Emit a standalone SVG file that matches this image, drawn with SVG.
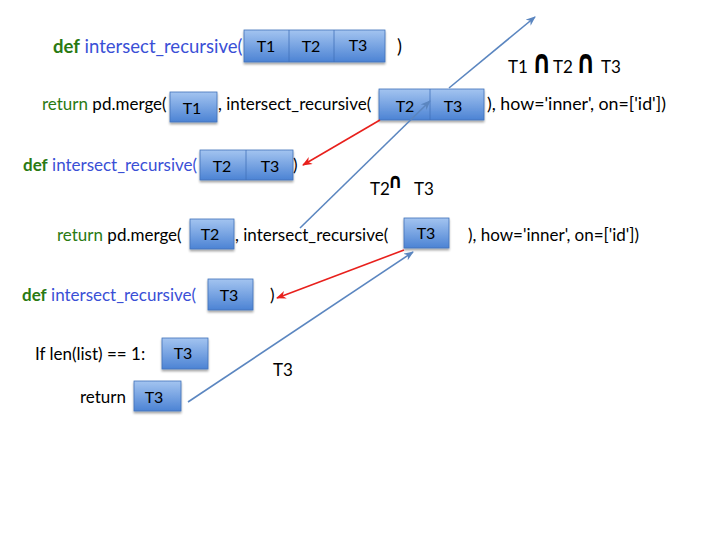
<svg xmlns="http://www.w3.org/2000/svg" width="720" height="540" viewBox="0 0 720 540">
  <defs>
    <linearGradient id="boxFill" x1="0" y1="0" x2="0" y2="1">
      <stop offset="0" stop-color="#a3c4f0"/>
      <stop offset="1" stop-color="#4c83d4"/>
    </linearGradient>
    <filter id="shadow" x="-20%" y="-20%" width="140%" height="160%">
      <feDropShadow dx="0" dy="2" stdDeviation="1.2" flood-color="#000" flood-opacity="0.35"/>
    </filter>
    <marker id="headBlue" viewBox="0 0 10 8" refX="9" refY="4" markerWidth="10" markerHeight="8" markerUnits="userSpaceOnUse" orient="auto">
      <path d="M0,0 L10,4 L0,8 L3,4 z" fill="#5b86c0"/>
    </marker>
    <marker id="headRed" viewBox="0 0 10 8" refX="9" refY="4" markerWidth="10" markerHeight="8" markerUnits="userSpaceOnUse" orient="auto">
      <path d="M0,0 L10,4 L0,8 L3,4 z" fill="#e8201c"/>
    </marker>
  </defs>
  <style>
    text { font-family: Lato, "Liberation Sans", sans-serif; font-size: 17px; fill: #000; }
    .kw { fill: #2a7a12; }
    .kwb { fill: #2a7a12; font-weight: bold; }
    .fn { fill: #3a4fd6; }
    .big { font-size: 18.5px; }
    .box { fill: url(#boxFill); stroke: #4272ba; stroke-width: 0.8; filter: url(#shadow); }
    .div { stroke: #4272ba; stroke-width: 0.8; }
    .lbl { font-size: 16px; text-anchor: middle; }
    .cap { font-family: "DejaVu Sans", sans-serif; font-weight: bold; font-size: 33px; }
    .cap-sm { font-family: "DejaVu Sans", sans-serif; font-weight: bold; font-size: 21px; }
    .blue { fill: none; stroke: #5b86c0; stroke-width: 1.6; marker-end: url(#headBlue); }
    .red { fill: none; stroke: #e8201c; stroke-width: 1.6; marker-end: url(#headRed); }
  </style>

  <rect width="720" height="540" fill="#fff"/>

  <!-- code lines -->
  <g id="code">
    <text class="big" x="53" y="53"><tspan class="kwb">def</tspan><tspan class="fn"> intersect_recursive(</tspan></text>
    <text class="big" x="397" y="53">)</text>

    <text x="42" y="110"><tspan class="kw">return</tspan> pd.merge(</text>
    <text x="218" y="110">, intersect_recursive(</text>
    <text x="487" y="110" style="font-size:17.8px">), how='inner', on=['id'])</text>

    <text x="23" y="171"><tspan class="kwb">def</tspan><tspan class="fn"> intersect_recursive(</tspan></text>
    <text x="293" y="171">)</text>

    <text x="57" y="241"><tspan class="kw">return</tspan> pd.merge(</text>
    <text x="235" y="241">, intersect_recursive(</text>
    <text x="468" y="241">), how='inner', on=['id'])</text>

    <text x="22" y="301"><tspan class="kwb">def</tspan><tspan class="fn"> intersect_recursive(</tspan></text>
    <text x="270" y="301">)</text>

    <text x="35" y="360">If len(list) == 1:</text>
    <text x="80" y="403">return</text>
  </g>

  <!-- intermediate results -->
  <g id="results">
    <text x="508" y="73">T1</text>
    <text class="cap" transform="translate(532,73) scale(0.72,1)">∩</text>
    <text x="553" y="73">T2</text>
    <text class="cap" transform="translate(576,73) scale(0.72,1)">∩</text>
    <text x="601" y="73">T3</text>

    <text x="370" y="195">T2</text>
    <text class="cap-sm" transform="translate(388,188) scale(0.85,1)">∩</text>
    <text x="414" y="195">T3</text>

    <text x="273" y="376">T3</text>
  </g>

  <!-- table blocks -->
  <g id="list-t1-t2-t3">
    <rect class="box" x="244" y="30" width="141" height="32"/>
    <line class="div" x1="289" y1="30" x2="289" y2="62"/>
    <line class="div" x1="334" y1="30" x2="334" y2="62"/>
    <text class="lbl" x="266" y="52">T1</text>
    <text class="lbl" x="311" y="52">T2</text>
    <text class="lbl" x="358" y="51">T3</text>
  </g>
  <g id="head-t1">
    <rect class="box" x="170" y="92" width="47" height="30"/>
    <text class="lbl" x="192" y="114">T1</text>
  </g>
  <g id="tail-t2-t3">
    <rect class="box" x="379" y="89" width="105" height="31"/>
    <line class="div" x1="430" y1="89" x2="430" y2="120"/>
    <text class="lbl" x="405" y="112">T2</text>
    <text class="lbl" x="453" y="112">T3</text>
  </g>
  <g id="list-t2-t3">
    <rect class="box" x="200" y="150" width="93" height="30"/>
    <line class="div" x1="246" y1="150" x2="246" y2="180"/>
    <text class="lbl" x="222" y="172">T2</text>
    <text class="lbl" x="270" y="172">T3</text>
  </g>
  <g id="head-t2">
    <rect class="box" x="190" y="219" width="44" height="30"/>
    <text class="lbl" x="210" y="240">T2</text>
  </g>
  <g id="tail-t3">
    <rect class="box" x="404" y="218" width="45" height="30"/>
    <text class="lbl" x="426" y="239">T3</text>
  </g>
  <g id="list-t3">
    <rect class="box" x="208" y="279" width="45" height="31"/>
    <text class="lbl" x="229" y="301">T3</text>
  </g>
  <g id="single-t3">
    <rect class="box" x="162" y="338" width="46" height="31"/>
    <text class="lbl" x="183" y="359">T3</text>
  </g>
  <g id="return-t3">
    <rect class="box" x="134" y="381" width="47" height="30"/>
    <text class="lbl" x="154" y="403">T3</text>
  </g>

  <!-- call and return arrows -->
  <g id="connectors">
    <line class="blue" x1="449" y1="88" x2="535" y2="17"/>
    <line class="red" x1="380" y1="120" x2="303" y2="165"/>
    <line class="blue" x1="300" y1="228" x2="430" y2="101"/>
    <line class="red" x1="404" y1="250" x2="277" y2="298"/>
    <line class="blue" x1="188" y1="402" x2="413" y2="252"/>
  </g>
</svg>
